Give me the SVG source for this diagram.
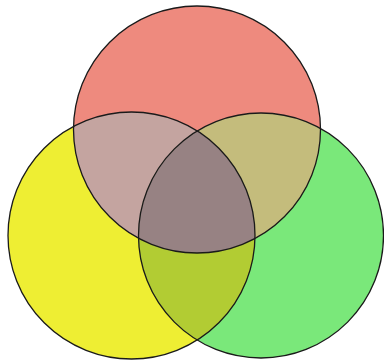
<svg xmlns="http://www.w3.org/2000/svg" width="384" height="362" viewBox="0 0 384 362">
<style>
.outline{fill:none;stroke:#1a1a1a;stroke-width:1.3}
</style>
<defs>
<clipPath id="cR"><circle cx="197" cy="129.5" r="123.5"/></clipPath>
<clipPath id="cY"><circle cx="131.5" cy="235.5" r="123.5"/></clipPath>
<clipPath id="cG"><circle cx="261" cy="235.5" r="122.5"/></clipPath>
</defs>
<rect width="384" height="362" fill="#ffffff"/>
<g id="yellow"><circle cx="131.5" cy="235.5" r="123.5" fill="#eeee33"/></g>
<g id="green"><circle cx="261" cy="235.5" r="122.5" fill="#7ae87a"/></g>
<g id="red"><circle cx="197" cy="129.5" r="123.5" fill="#ee8a7e"/></g>
<g id="red-yellow" clip-path="url(#cR)"><circle cx="131.5" cy="235.5" r="123.5" fill="#c4a4a0"/></g>
<g id="red-green" clip-path="url(#cR)"><circle cx="261" cy="235.5" r="122.5" fill="#c4bc7c"/></g>
<g id="yellow-green" clip-path="url(#cY)"><circle cx="261" cy="235.5" r="122.5" fill="#b2cc33"/></g>
<g id="all-three" clip-path="url(#cR)"><g clip-path="url(#cY)"><circle cx="261" cy="235.5" r="122.5" fill="#978283"/></g></g>
<g id="outlines">
<circle class="outline" cx="197" cy="129.5" r="123.5"/>
<circle class="outline" cx="131.5" cy="235.5" r="123.5"/>
<circle class="outline" cx="261" cy="235.5" r="122.5"/>
</g>
</svg>
